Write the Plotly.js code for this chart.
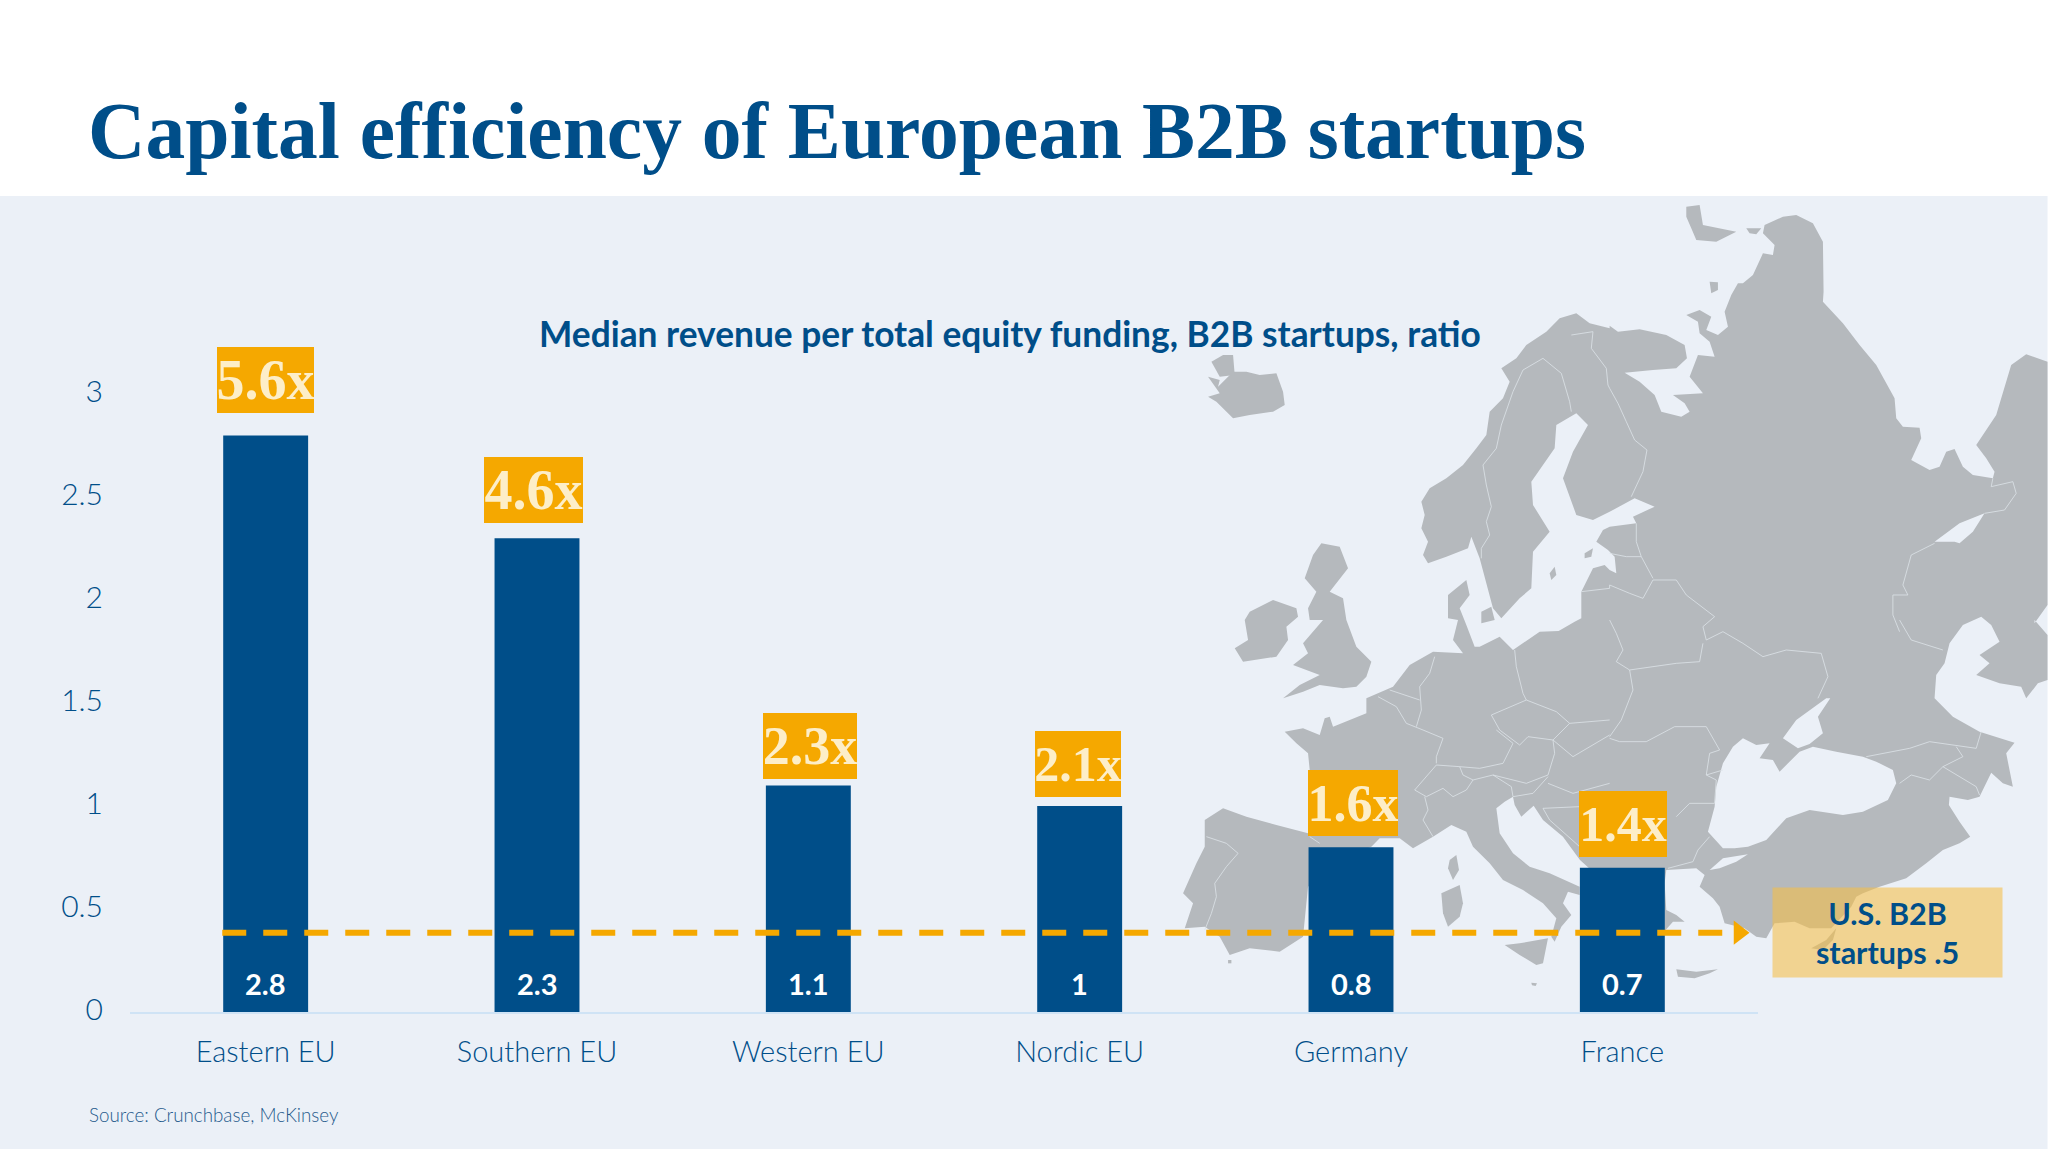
<!DOCTYPE html>
<html>
<head>
<meta charset="utf-8">
<script src="https://cdn.plot.ly/plotly-3.0.1.min.js"></script>
<style>html,body{margin:0;padding:0;background:#fff}#chart{width:2048px;height:1152px}</style>
</head>
<body>
<div id="chart"></div>
<script>
// ---------- chart data ----------
const categories = ["Eastern EU", "Southern EU", "Western EU", "Nordic EU", "Germany", "France"];
const ratios = [2.8, 2.3, 1.1, 1, 0.8, 0.7];
const multiples = ["5.6x", "4.6x", "2.3x", "2.1x", "1.6x", "1.4x"];
const yTicks = [0, 0.5, 1, 1.5, 2, 2.5, 3];
const usLineLevel = 0.385;
const usLabel = "U.S. B2B<br>startups .5";
const chartTitle = "Capital efficiency of European B2B startups";
const subTitle = "Median revenue per total equity funding, B2B startups, ratio";
const sourceNote = "Source: Crunchbase, McKinsey";

// ---------- badge look (not data) ----------
const badgeShiftX = [0, -4, 2, -2, 2, 1];
const badgeWidth = [97, 99, 94, 86, 90, 88];
const badgeGap = [22, 15, 6, 9, 11, 11];
const badgeFont = [56, 56, 54, 50, 52, 50];

const W = 2048, H = 1152, ML = 130, MR = 289.6, MT = 353, MB = 140;
const NAVY = "#004e89", ORANGE = "#f5a800", BG = "#ebf0f7", LAND = "#b5b9bd", EDGE = "#dde3e8";
// "paper" means the plot area in Plotly, so page pixels are converted relative to it
const px = x => (x - ML) / (W - ML - MR), py = y => (H - MB - y) / (H - MT - MB);

// ---------- decorative background map, traced in four crop tiles ----------
const T = {NW:[1180,195], NE:[1610,195], SW:[1180,620], SE:[1610,620]};
function seg(t, s){
  return s.trim().split(/\s+/).map(p => { const [a,b] = p.split(",").map(Number);
    return [T[t][0] + a/3, T[t][1] + b/3]; });
}
function path(pts, close){
  return "M" + pts.map(p => px(p[0]).toFixed(5) + "," + py(p[1]).toFixed(5)).join("L") + (close ? "Z" : "");
}
const mainLand = [].concat(
  seg("SW","835,0"),
  seg("NW","805,1270 805,1200 860,1155 870,1200 840,1240 860,1290"),
  seg("SW","885,80 900,80 960,50 1000,90 1080,35 1137,33 1185,5"),
  seg("NW","1205,1270 1205,1190 1240,1120 1275,1110 1290,1125"),
  seg("NE","20,1135 15,1085"),
  seg("NW","1285,1065 1250,1040 1270,1005"),
  seg("NE","0,995 80,985 70,965 135,935 75,910 10,945"),
  seg("NW","1290,950 1240,975 1190,960 1150,850 1180,770 1225,690 1190,655 1130,690 1125,760 1055,860 1060,930 1110,1010 1060,1070 1055,1180 1020,1210 965,1270 940,1240 900,1090 875,1025 865,1060 800,1085 745,1105 730,1080 745,1040 725,1000 735,960 725,920 750,880 800,850 850,810 890,760 920,720 930,650 970,610 990,560 965,520 1010,490 1040,450 1100,410 1140,370 1190,355 1230,385 1290,400"),
  seg("NE","0,392 25,410 90,403 170,420 225,450 232,490 200,520 130,525 45,533 90,560 135,600 155,650 215,665 240,650 225,625 190,600 280,595 240,545 265,480 315,485 300,440 270,415 265,380 230,360 270,345 305,365 290,405 325,420 355,395 345,350 365,300 385,265 400,265 430,240 460,175 490,180 495,150 460,115 465,90 520,65 560,60 610,85 640,140 642,290 640,320 700,385 750,450 800,510 855,610 860,670 880,695 930,698 935,730 905,795 960,825 990,815 1010,770 1035,762 1060,815 1090,840 1150,850 1155,830 1130,790 1100,750 1160,660 1205,510 1250,478 1314,500 1314,1230 1275,1285"),
  seg("SE","1275,0 1314,45 1314,180 1285,190 1250,235 1235,200 1170,190 1100,165 1140,130 1110,105 1170,65 1145,15"),
  seg("NE","1115,1265 1060,1290"),
  seg("SE","1020,70 1005,130 980,165 975,235 1030,290 1110,335 1215,368 1190,400 1210,500 1180,490 1145,458 1110,530 1075,540 1020,530 1018,555 1050,605 1082,650 1050,670 1000,690 950,730 890,775 810,800 760,820 740,830 725,860 665,925 600,925 555,905 495,910 470,955 440,950 405,925 345,910 330,860 310,835 270,800 285,765 260,745 170,750 165,790 170,870 200,885 225,905 190,905 168,930 150,930 100,900 50,860 0,800"),
  seg("SW","1201,720 1150,650 1090,600 1062,557 1025,590 1005,555 1000,530 975,545 950,565 960,640 1000,700 1050,740 1110,760 1200,800 1200,825 1165,815 1150,850 1175,885 1145,920 1125,965 1115,950 1130,895 1090,850 1030,810 970,780 930,730 880,680 860,635 815,615 760,650 700,685 660,655 600,655 575,680 500,710 385,800 370,950 300,995 210,985 150,1005 120,950 75,920 15,925 40,850 10,820 50,730 75,680 75,600 130,565 200,590 290,615 385,640 395,600 390,450 385,400 350,370 315,335 370,325 420,345 435,295 450,290 460,320 560,280 560,235 640,200 690,135 760,95 850,100 820,60")
);
const islands = [
  [].concat(seg("NW","425,1045 480,1055 505,1120 450,1190 490,1210 500,1275"), seg("SW","500,0 530,80 575,125 560,170 530,200 490,205 420,195 370,215 310,235 360,195 420,165 340,135 385,100 370,70 430,0"), seg("NW","390,1275 385,1240 410,1190 375,1150 400,1080")),
  [].concat(seg("NW","210,1250 280,1215 350,1240 355,1265"), seg("SW","320,20 325,60 290,110 190,125 165,85 205,60 195,0")),
  seg("NW","85,545 120,555 115,575 160,530 200,530 240,540 290,535 310,590 315,630 280,650 210,660 160,670 110,620 85,605 120,595"),
  seg("NW","95,500 130,480 160,480 165,540 120,545"),
  seg("NE","300,260 325,262 325,285 305,295"),
  seg("NE","230,35 270,30 280,90 380,110 320,140 260,135 245,100 230,65"),
  seg("NE","410,100 455,100 440,118 420,115"),
  seg("SW","975,975 1020,970 1105,955 1090,1030 1070,1035 1020,1005"),
  seg("SW","785,820 840,795 850,850 840,890 805,920 790,880"),
  seg("SW","830,705 838,750 820,780 805,745 810,720"),
  seg("SE","200,1048 260,1055 325,1048 300,1060 255,1075 205,1070"),
  seg("SE","680,925 650,960 605,985 640,990 670,960"),
  seg("NW","1125,1115 1130,1140 1115,1155 1110,1135"),
  seg("NW","1215,1075 1240,1060 1235,1085 1215,1090"),
  seg("NW","905,1250 935,1235 945,1275 905,1285"),
  seg("SW","145,1020 155,1020 155,1030 145,1030"),
  seg("SW","1055,1088 1072,1090 1068,1098 1057,1096")
];
const waters = [
  seg("SE","370,380 400,355 440,375 480,370 450,415 490,420 510,455 570,395 610,380 680,395 760,410 800,425 850,450 860,490 835,540 760,575 700,585 600,570 530,595 470,660 415,680 375,685 340,685 295,635 315,560 320,500 340,430"),
  seg("SE","565,385 520,355 560,300 650,235 662,235 625,290 640,340 600,372"),
  seg("SE","300,750 340,715 415,703 380,725 330,745"),
  seg("NE","975,1040 1050,985 1125,955 1090,1010 1050,1045 1035,1040")
];
const borders = [
  seg("SW","80,650 140,670 175,700 140,740 105,790 110,830 95,880 75,930"),
  seg("SW","390,650 420,670"),
  seg("SW","595,230 650,260 680,310 730,330 790,355 770,410 770,430"),
  seg("SW","705,510 770,435 840,440 850,465 880,480 860,510 820,530 790,505 740,530 705,510"),
  seg("SW","735,530 745,570 730,600 760,650"),
  seg("SW","880,480 940,465 995,500 1000,530"),
  seg("SW","840,440 900,445 970,430 1000,370 950,330"),
  seg("SW","935,285 960,330 1020,375 1045,350 1120,360 1170,310 1130,275 1040,240 935,285"),
  seg("SW","1005,90 1010,140 1030,220 1040,240"),
  seg("SW","765,110 750,160 720,200 725,270 710,320"),
  seg("SW","630,210 720,240"),
  seg("SW","1170,310 1290,300"),
  seg("SW","1120,360 1125,400 1105,465 1040,490 940,465"),
  seg("SW","1000,530 1060,520 1105,470"),
  seg("SW","1105,490 1180,520 1290,490"),
  seg("SW","1120,360 1180,410 1290,345"),
  seg("SW","1090,565 1110,600 1200,680"),
  seg("SW","1090,565 1200,560"),
  seg("NW","1090,490 1145,535 1170,620 1175,650"),
  seg("NW","1090,490 1030,525 1000,590 965,690 950,760 910,810 920,870 935,935 920,980 930,1020 905,1060 905,1090"),
  seg("NW","1175,420 1240,410 1235,460 1280,520 1285,570").concat(seg("NE","0,580 25,625 50,680 75,735 112,765 100,830 65,905")),
  seg("NE","80,985 80,1040 95,1085 130,1150"),
  seg("NE","0,1075 50,1085 95,1085"),
  seg("NW","1205,1190 1290,1180").concat(seg("NE","0,1170 60,1195 100,1210 130,1155 200,1155 230,1200 315,1265"), seg("SE","280,20 290,60 340,35 400,70 460,110 530,90 635,100 655,170 625,235")),
  seg("SE","280,70 270,125 200,130 60,150 20,125 40,90 20,40 0,0"),
  seg("SE","60,150 70,210 35,300 0,350"),
  seg("SE","0,355 30,365 110,365 195,320 290,320 330,390 300,400 290,465 320,480 315,550 240,550 200,590"),
  seg("SE","290,465 340,450"),
  seg("SE","175,745 250,725 265,690 300,650"),
  seg("SE","770,410 900,385 960,365 1100,385 1115,335"),
  seg("SE","870,490 905,465 960,480 1000,440 1100,500 1110,525"),
  seg("SE","1000,440 1060,410 1040,380"),
  seg("NE","1150,850 1145,875 1210,860 1220,895 1185,945 1125,955"),
  seg("NE","975,1045 905,1080 880,1170 895,1200 850,1200 850,1260 870,1310"),
  seg("SE","870,0 905,60 1000,90")
];
const shapes = [
  {type:"rect", xref:"paper", yref:"paper", x0:px(0), x1:px(W), y0:py(1149), y1:py(196), fillcolor:BG, line:{width:0}, layer:"below"},
  {type:"path", xref:"paper", yref:"paper", path:path(mainLand,true), fillcolor:LAND, line:{width:0}, layer:"below"}
];
islands.forEach(p => shapes.push({type:"path", xref:"paper", yref:"paper", path:path(p,true), fillcolor:LAND, line:{width:0}, layer:"below"}));
waters.forEach(p => shapes.push({type:"path", xref:"paper", yref:"paper", path:path(p,true), fillcolor:BG, line:{width:0}, layer:"below"}));
borders.forEach(p => shapes.push({type:"path", xref:"paper", yref:"paper", path:path(p,false), line:{color:EDGE,width:0.8}, layer:"below"}));

// ---------- annotations ----------
const annotations = [];
categories.forEach((c,i) => {
  annotations.push({x:i, y:ratios[i], xref:"x", yref:"y", xanchor:"center", yanchor:"bottom",
    xshift:badgeShiftX[i], yshift:badgeGap[i], showarrow:false, text:multiples[i],
    width:badgeWidth[i], height:66, bgcolor:ORANGE, borderpad:0, borderwidth:0, valign:"middle",
    font:{family:"Liberation Serif", size:badgeFont[i], color:"#fdeec8", weight:700}});
  annotations.push({x:i, y:0, xref:"x", yref:"y", xanchor:"center", yanchor:"middle", yshift:29,
    showarrow:false, text:String(ratios[i]), font:{family:"Lato", size:29, color:"#ffffff", weight:700}});
});
annotations.push({xref:"paper", yref:"paper", x:px(1010), y:py(333), xanchor:"center", yanchor:"middle",
  showarrow:false, text:subTitle, font:{family:"Lato", size:35.3, color:NAVY, weight:700}});
annotations.push({xref:"paper", yref:"paper", x:px(1887.5), y:py(932.5), xanchor:"center", yanchor:"middle",
  showarrow:false, text:usLabel, width:229, height:89, borderpad:0, align:"center", valign:"middle",
  bgcolor:"rgba(245,190,70,0.58)", font:{family:"Lato", size:30.5, color:NAVY, weight:700}});
annotations.push({xref:"paper", yref:"paper", x:px(87), y:py(1114), xanchor:"left", yanchor:"middle",
  showarrow:false, text:sourceNote, font:{family:"Lato", size:18.8, color:"#1f5a8c", weight:300}});

// ---------- traces ----------
const xIdx = categories.map((c,i) => i);
const bars = {type:"bar", x:xIdx, y:ratios, width:0.313, marker:{color:NAVY}, hoverinfo:"skip"};
const usLine = {type:"scatter", mode:"lines", x:[-0.16, 5.38], y:[usLineLevel, usLineLevel],
  line:{color:ORANGE, width:6, dash:"24px,17px"}, hoverinfo:"skip"};
const usArrow = {type:"scatter", mode:"markers", x:[5.43], y:[usLineLevel],
  marker:{symbol:"triangle-right", size:21, color:ORANGE}, hoverinfo:"skip"};

Plotly.newPlot("chart", [bars, usLine, usArrow], {
  width:W, height:H, showlegend:false, paper_bgcolor:"#ffffff", plot_bgcolor:"rgba(0,0,0,0)",
  margin:{l:ML, r:MR, t:MT, b:MB, pad:0},
  title:{text:chartTitle, x:88/W, xanchor:"left", xref:"container", y:1-130/H, yref:"container", yanchor:"middle",
    font:{family:"Liberation Serif", size:79.5, color:NAVY, weight:700}},
  xaxis:{range:[-0.5,5.5], tickvals:xIdx, ticktext:categories, showgrid:false, zeroline:false,
    showline:true, linecolor:"#cfe3f5", linewidth:2, ticks:"", ticklabelstandoff:13, ticklabelshift:-1.5,
    tickfont:{family:"Lato", size:29, color:NAVY, weight:300}},
  yaxis:{range:[0,3.2], tickvals:yTicks, showgrid:false, zeroline:false, showline:false, ticks:"",
    ticklabelstandoff:26, ticklabelshift:-3, tickfont:{family:"Lato", size:30, color:NAVY, weight:300}},
  shapes:shapes, annotations:annotations
}, {displayModeBar:false, staticPlot:true});
</script>
</body>
</html>
